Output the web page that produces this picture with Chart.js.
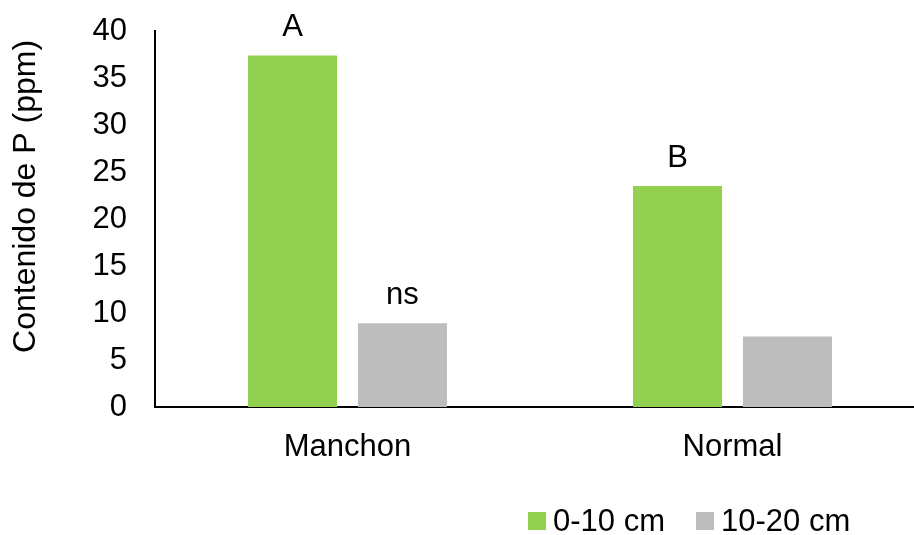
<!DOCTYPE html>
<html>
<head>
<meta charset="utf-8">
<script src="https://cdn.jsdelivr.net/npm/chart.js@4/dist/chart.umd.min.js"></script>
<style>
    html, body { margin: 0; padding: 0; background: #fff; overflow: hidden; }
    #wrap { position: relative; width: 914px; height: 535px; overflow: hidden; }
    #legend {
        position: absolute; left: 528px; top: 505px;
        display: flex; align-items: center;
        font-family: "Liberation Sans", Arial, sans-serif; font-size: 31px; line-height: 31px; color: #000;
    }
    #legend .box { width: 18px; height: 18px; margin-right: 7px; }
    #legend .item { display: flex; align-items: center; }
    #legend .item + .item { margin-left: 31px; }
</style>
</head>
<body>
<div id="wrap">
    <canvas id="mainChart" width="930" height="535"></canvas>
    <div id="legend"></div>
</div>
<script>
// Data
const categories = ['Manchon', 'Normal'];
const seriesNames = ['0-10 cm', '10-20 cm'];
const shallow = [37.4, 23.5];
const deep = [8.9, 7.5];
const letters = [['A', 'B'], ['ns', '']];
const yTicks = [0, 5, 10, 15, 20, 25, 30, 35, 40];

const colors = ['#92D050', '#BDBDBD'];
const FONT = '"Liberation Sans", Arial, sans-serif';

// letters above the bars
const letterPlugin = {
    id: 'letters',
    afterDatasetsDraw(chart) {
        const ctx = chart.ctx;
        ctx.save();
        ctx.font = '31px ' + FONT;
        ctx.fillStyle = '#000';
        ctx.textAlign = 'center';
        ctx.textBaseline = 'alphabetic';
        chart.data.datasets.forEach((ds, i) => {
            chart.getDatasetMeta(i).data.forEach((bar, j) => {
                const t = letters[i][j];
                if (t) ctx.fillText(t, bar.x, bar.y - 19);
            });
        });
        ctx.restore();
    }
};

const ctx = document.getElementById('mainChart').getContext('2d');
new Chart(ctx, {
    type: 'bar',
    data: {
        labels: categories,
        datasets: [
            { label: seriesNames[0], data: shallow, backgroundColor: colors[0], borderWidth: 0 },
            { label: seriesNames[1], data: deep, backgroundColor: colors[1], borderWidth: 0 }
        ]
    },
    options: {
        responsive: false,
        animation: false,
        layout: { padding: { top: 31, right: 5, bottom: 0, left: 0 } },
        categoryPercentage: 0.571,
        barPercentage: 0.81,
        plugins: { legend: { display: false }, tooltip: { enabled: false } },
        scales: {
            x: {
                grid: { display: false, drawTicks: false },
                border: { display: true, color: '#000', width: 2 },
                ticks: { color: '#000', font: { family: FONT, size: 31 }, padding: 22 },
                afterFit(scale) { scale.height = 128; }
            },
            y: {
                min: 0,
                max: 40,
                afterBuildTicks(scale) { scale.ticks = yTicks.map(v => ({ value: v })); },
                grid: { display: false, drawTicks: false },
                border: { display: true, color: '#000', width: 2 },
                ticks: { color: '#000', font: { family: FONT, size: 31 }, padding: 28 },
                title: {
                    display: true,
                    text: 'Contenido de P (ppm) ',
                    align: 'end',
                    color: '#000',
                    font: { family: FONT, size: 32 },
                    padding: { top: 7, bottom: 0 }
                },
                afterFit(scale) {
                    scale.width = 155;
                    scale.paddingTop = 0;
                    scale.paddingBottom = 0;
                }
            }
        }
    },
    plugins: [letterPlugin]
});

// legend
document.getElementById('legend').innerHTML = seriesNames.map((name, i) =>
    `<span class="item"><span class="box" style="background:${colors[i]}"></span>${name}</span>`
).join('');
</script>
</body>
</html>
